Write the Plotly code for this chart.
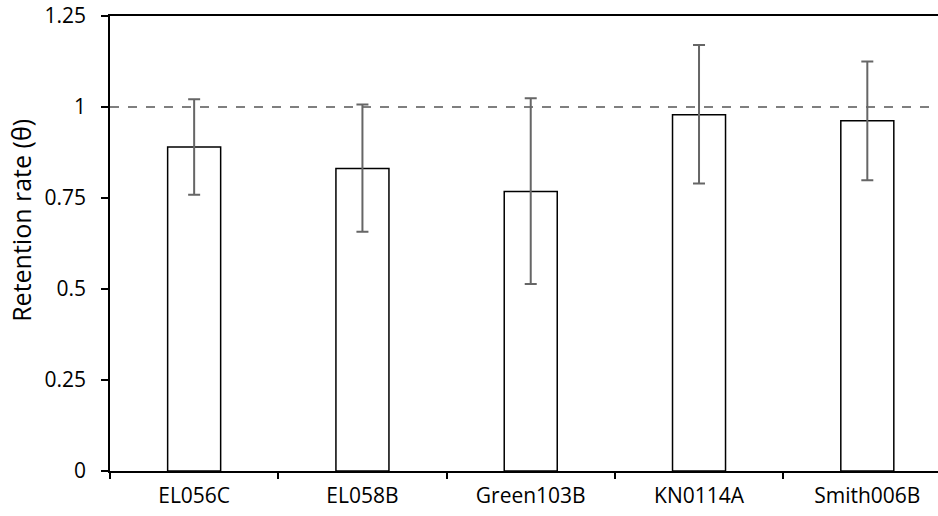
import plotly.graph_objects as go

categories = ["EL056C", "EL058B", "Green103B", "KN0114A", "Smith006B"]
values = [0.890, 0.831, 0.768, 0.979, 0.962]
upper = [1.021, 1.007, 1.024, 1.170, 1.125]
lower = [0.759, 0.657, 0.514, 0.790, 0.799]
ref_value = 1.0
y_ticks = [0, 0.25, 0.5, 0.75, 1, 1.25]
y_tick_labels = ["0", "0.25", "0.5", "0.75", "1", "1.25"]
y_title = "Retention rate (θ)"

err_plus = [u - v for u, v in zip(upper, values)]
err_minus = [v - l for v, l in zip(values, lower)]

font_family = "Open Sans"

fig = go.Figure()
fig.add_trace(go.Bar(
    x=categories, y=values, width=0.315,
    marker=dict(color="white", line=dict(color="black", width=1.5)),
    error_y=dict(type="data", symmetric=False, array=err_plus, arrayminus=err_minus,
                 color="#666666", thickness=2, width=6),
    showlegend=False, hoverinfo="skip",
))

fig.add_shape(type="line", xref="paper", yref="y", x0=0, x1=1, y0=ref_value, y1=ref_value,
              line=dict(color="#555555", width=1.3, dash="dash"), layer="below")

fig.add_annotation(text=y_title, textangle=-90, xref="paper", yref="paper",
                   x=-0.1075, y=0.552, xanchor="center", yanchor="middle",
                   showarrow=False, font=dict(size=25, family=font_family, color="black"))

fig.update_layout(
    width=938, height=516,
    margin=dict(l=110, r=0, t=16, b=45),
    plot_bgcolor="white", paper_bgcolor="white",
    font=dict(family=font_family, size=21, color="black"),
    xaxis=dict(
        type="category", range=[-0.5, 4.42], automargin=False,
        showline=True, linecolor="black", linewidth=1.5, mirror=True,
        ticks="outside", tickson="boundaries", ticklen=6, tickwidth=1.5, tickcolor="black",
        showgrid=False, tickfont=dict(size=21, family=font_family),
        ticklabelstandoff=5,
    ),
    yaxis=dict(
        range=[0, 1.25], tickvals=y_ticks, ticktext=y_tick_labels, automargin=False,
        showline=True, linecolor="black", linewidth=1.5,
        ticks="outside", ticklen=7, tickwidth=1.5, tickcolor="black",
        showgrid=False, zeroline=False,
        tickfont=dict(size=21, family=font_family),
        ticklabelstandoff=11,
    ),
)

fig.write_html("out.html", config={"displayModeBar": False},
               post_script="document.body.style.margin='0';document.body.style.overflow='hidden';")
